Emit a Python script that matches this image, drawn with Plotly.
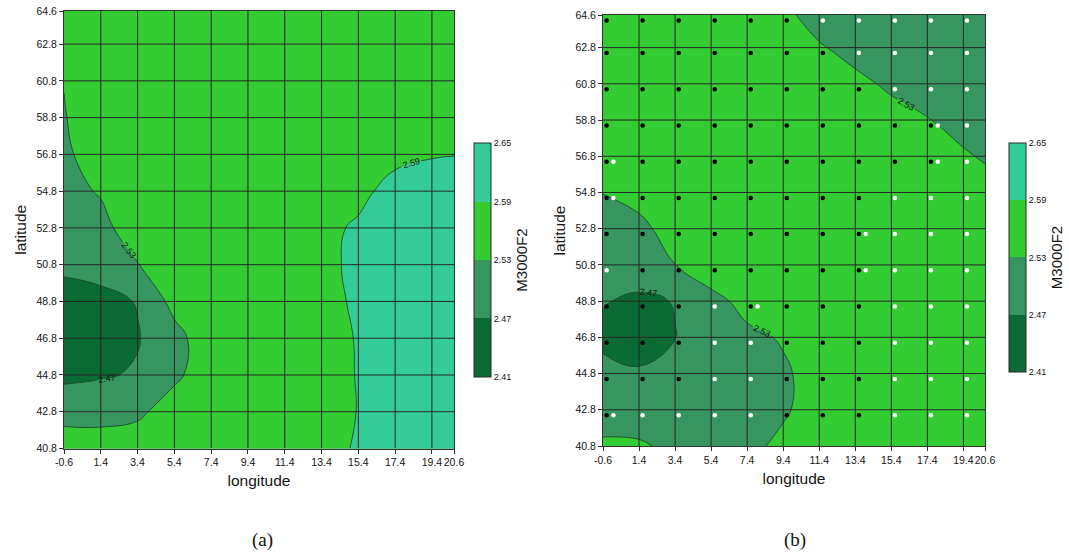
import plotly.graph_objects as go

# ---------------- data ----------------
lon = [-0.6, 1.4, 3.4, 5.4, 7.4, 9.4, 11.4, 13.4, 15.4, 17.4, 19.4, 20.6]
lat = [40.8, 42.8, 44.8, 46.8, 48.8, 50.8, 52.8, 54.8, 56.8, 58.8, 60.8, 62.8, 64.6]
lon_ticks = ["-0.6", "1.4", "3.4", "5.4", "7.4", "9.4", "11.4", "13.4", "15.4", "17.4", "19.4", "20.6"]
lat_ticks = ["40.8", "42.8", "44.8", "46.8", "48.8", "50.8", "52.8", "54.8", "56.8", "58.8", "60.8", "62.8", "64.6"]

levels = [2.41, 2.47, 2.53, 2.59, 2.65]

# M3000F2 estimated at grid nodes (rows = latitude bottom->top, cols = longitude)
z_a = [
    [2.575, 2.565, 2.560, 2.560, 2.560, 2.560, 2.565, 2.575, 2.5945, 2.610, 2.620, 2.620],
    [2.500, 2.505, 2.520, 2.555, 2.560, 2.560, 2.565, 2.575, 2.591, 2.610, 2.620, 2.620],
    [2.460, 2.465, 2.475, 2.520, 2.560, 2.560, 2.565, 2.575, 2.5917, 2.610, 2.620, 2.620],
    [2.430, 2.440, 2.4668, 2.510, 2.567, 2.565, 2.570, 2.580, 2.5916, 2.610, 2.620, 2.620],
    [2.450, 2.455, 2.4726, 2.549, 2.560, 2.565, 2.570, 2.580, 2.5948, 2.610, 2.620, 2.620],
    [2.480, 2.490, 2.528, 2.568, 2.565, 2.565, 2.570, 2.585, 2.5943, 2.610, 2.620, 2.620],
    [2.500, 2.515, 2.558, 2.565, 2.565, 2.565, 2.570, 2.585, 2.5926, 2.605, 2.615, 2.620],
    [2.515, 2.534, 2.555, 2.560, 2.565, 2.565, 2.570, 2.580, 2.585, 2.5968, 2.605, 2.610],
    [2.520, 2.557, 2.560, 2.560, 2.565, 2.565, 2.570, 2.575, 2.580, 2.585, 2.588, 2.589],
    [2.528, 2.553, 2.560, 2.560, 2.560, 2.560, 2.565, 2.570, 2.575, 2.580, 2.580, 2.585],
    [2.531, 2.550, 2.555, 2.560, 2.560, 2.560, 2.565, 2.565, 2.570, 2.575, 2.575, 2.580],
    [2.545, 2.555, 2.555, 2.560, 2.560, 2.560, 2.560, 2.565, 2.565, 2.570, 2.570, 2.575],
    [2.550, 2.555, 2.555, 2.560, 2.560, 2.560, 2.560, 2.560, 2.565, 2.565, 2.570, 2.570],
]

z_b = [
    [2.540, 2.535, 2.521, 2.510, 2.520, 2.539, 2.550, 2.555, 2.560, 2.560, 2.560, 2.560],
    [2.500, 2.508, 2.510, 2.510, 2.515, 2.525, 2.548, 2.555, 2.560, 2.560, 2.560, 2.560],
    [2.485, 2.474, 2.490, 2.505, 2.515, 2.524, 2.547, 2.555, 2.560, 2.560, 2.560, 2.560],
    [2.458, 2.454, 2.469, 2.505, 2.520, 2.534, 2.545, 2.550, 2.555, 2.560, 2.560, 2.560],
    [2.473, 2.461, 2.472, 2.515, 2.545, 2.550, 2.550, 2.555, 2.555, 2.560, 2.560, 2.560],
    [2.490, 2.497, 2.5295, 2.560, 2.560, 2.555, 2.555, 2.555, 2.555, 2.555, 2.560, 2.560],
    [2.510, 2.520, 2.547, 2.555, 2.560, 2.560, 2.560, 2.560, 2.560, 2.560, 2.560, 2.560],
    [2.531, 2.544, 2.555, 2.560, 2.560, 2.560, 2.560, 2.560, 2.560, 2.560, 2.550, 2.545],
    [2.545, 2.550, 2.555, 2.560, 2.560, 2.560, 2.560, 2.555, 2.550, 2.545, 2.5345, 2.526],
    [2.550, 2.555, 2.560, 2.560, 2.560, 2.555, 2.550, 2.550, 2.545, 2.5316, 2.516, 2.515],
    [2.550, 2.555, 2.560, 2.560, 2.555, 2.550, 2.545, 2.540, 2.523, 2.515, 2.510, 2.510],
    [2.550, 2.555, 2.555, 2.555, 2.550, 2.545, 2.534, 2.516, 2.510, 2.505, 2.500, 2.500],
    [2.550, 2.550, 2.550, 2.550, 2.545, 2.540, 2.512, 2.505, 2.500, 2.495, 2.490, 2.490],
]

# station dots in panel (b): 0 = black, 1 = white, 2 = black with a white one beside it
dot_lon = [-0.4, 1.6, 3.6, 5.6, 7.6, 9.6, 11.6, 13.6, 15.6, 17.6, 19.6]
dot_lat = [42.5, 44.5, 46.5, 48.5, 50.5, 52.5, 54.5, 56.5, 58.5, 60.5, 62.5, 64.3]
dot_kind = [
    [2, 1, 1, 1, 1, 0, 0, 0, 1, 1, 1],
    [0, 0, 0, 1, 1, 0, 0, 0, 1, 1, 1],
    [0, 0, 0, 1, 1, 0, 0, 0, 1, 1, 1],
    [0, 0, 0, 1, 2, 0, 0, 0, 1, 1, 1],
    [1, 0, 0, 0, 0, 0, 0, 2, 1, 1, 1],
    [0, 0, 0, 0, 0, 0, 0, 2, 1, 1, 1],
    [2, 0, 0, 0, 0, 0, 0, 0, 1, 1, 1],
    [2, 0, 0, 0, 0, 0, 0, 0, 0, 2, 1],
    [0, 0, 0, 0, 0, 0, 0, 0, 0, 2, 1],
    [0, 0, 0, 0, 0, 0, 0, 0, 1, 1, 1],
    [0, 0, 0, 0, 0, 0, 0, 1, 1, 1, 1],
    [0, 0, 0, 0, 0, 0, 1, 1, 1, 1, 1],
]

# ---------------- styling ----------------
W, H = 1069, 555
C_DARK = "#0b6b35"
C_MED = "#379660"
C_BRIGHT = "#33cc33"
C_TEAL = "#33cc99"
# contour fill colours (plotly samples band mid-points at 0.2/0.4/0.6/0.8)
cs_contour = [[0.0, C_DARK], [0.2, C_DARK], [0.4, C_MED], [0.6, C_BRIGHT], [0.8, C_TEAL], [1.0, C_TEAL]]
# stepped scale for the colour bar (2.41 .. 2.65, four bands)
cs_bar = [[0.0, C_DARK], [0.25, C_DARK], [0.25, C_MED], [0.5, C_MED],
          [0.5, C_BRIGHT], [0.75, C_BRIGHT], [0.75, C_TEAL], [1.0, C_TEAL]]
FONT = "Liberation Sans"
GRID = "#262626"
TXT = "#141414"

fig = go.Figure()


def add_panel(z, xa, ya, cb_left, cb_top, cb_bottom, cb_thick):
    # hidden underneath the contour; only provides the banded colour bar
    fig.add_trace(go.Heatmap(
        x=lon, y=lat, z=z, xaxis=xa, yaxis=ya,
        colorscale=cs_bar, zmin=levels[0], zmax=levels[-1], hoverinfo="skip",
        colorbar=dict(x=cb_left / W, xanchor="left",
                      y=1 - (cb_top + cb_bottom) / 2 / H, yanchor="middle",
                      len=cb_bottom - cb_top, lenmode="pixels", thickness=cb_thick,
                      outlinewidth=1, outlinecolor="#2a2a2a",
                      tickvals=levels, ticktext=[f"{v:.2f}" for v in levels],
                      ticks="",
                      tickfont=dict(family=FONT, size=9, color=TXT),
                      xpad=0, ypad=0,
                      title=dict(text="M3000F2", side="right",
                                 font=dict(family=FONT, size=15, color=TXT))),
    ))
    fig.add_trace(go.Contour(
        x=lon, y=lat, z=z,
        xaxis=xa, yaxis=ya,
        colorscale=cs_contour, showscale=False,
        contours=dict(start=levels[0], end=levels[-1], size=round(levels[1] - levels[0], 2),
                      coloring="fill", showlabels=True,
                      labelfont=dict(family=FONT, size=9, color="#111111"),
                      labelformat=".2f"),
        line=dict(color="#1e4a2c", width=0.9, smoothing=1.3),
        hoverinfo="skip",
    ))


add_panel(z_a, "x", "y", 474, 143, 377, 17)
add_panel(z_b, "x2", "y2", 1009, 143, 372, 17)

# dots on panel (b)
bx, by, wx, wy = [], [], [], []
for r, row in enumerate(dot_kind):
    for c, k in enumerate(row):
        if k in (0, 2):
            bx.append(dot_lon[c]); by.append(dot_lat[r])
        if k == 1:
            wx.append(dot_lon[c]); wy.append(dot_lat[r])
        if k == 2:
            wx.append(dot_lon[c] + 0.38); wy.append(dot_lat[r])
fig.add_trace(go.Scatter(x=bx, y=by, mode="markers", xaxis="x2", yaxis="y2",
                         marker=dict(size=4.5, color="black"), showlegend=False, hoverinfo="skip"))
fig.add_trace(go.Scatter(x=wx, y=wy, mode="markers", xaxis="x2", yaxis="y2",
                         marker=dict(size=4.5, color="white"), showlegend=False, hoverinfo="skip"))

axis_common = dict(showgrid=False, zeroline=False, showline=True, mirror=True,
                   linecolor="#333333", linewidth=1, ticks="outside", ticklen=4,
                   tickcolor="#333333", tickangle=0,
                   tickfont=dict(family=FONT, size=10.5, color=TXT))

xa_common = dict(axis_common, range=[lon[0], lon[-1]], tickvals=lon, ticktext=lon_ticks,
                 title=dict(text="longitude", font=dict(family=FONT, size=15.5, color=TXT), standoff=8))
ya_common = dict(axis_common, range=[lat[0], lat[-1]], tickvals=lat, ticktext=lat_ticks,
                 title=dict(text="latitude", font=dict(family=FONT, size=15.5, color=TXT), standoff=6))

fig.update_layout(
    width=W, height=H,
    margin=dict(l=0, r=0, t=0, b=0, autoexpand=False),
    paper_bgcolor="white", plot_bgcolor="white",
    showlegend=False,
    xaxis=dict(xa_common, domain=[64 / W, 454 / W], anchor="y"),
    yaxis=dict(ya_common, domain=[1 - 448.5 / H, 1 - 11 / H], anchor="x"),
    xaxis2=dict(xa_common, domain=[603 / W, 985 / W], anchor="y2"),
    yaxis2=dict(ya_common, domain=[1 - 446 / H, 1 - 15 / H], anchor="x2"),
)

# grid lines drawn over the filled contours, at the tick positions
shapes = []
for xr, yr in (("x", "y"), ("x2", "y2")):
    for v in lon[1:-1]:
        shapes.append(dict(type="line", xref=xr, yref=yr, x0=v, x1=v, y0=lat[0], y1=lat[-1],
                           line=dict(color=GRID, width=1), layer="above"))
    for v in lat[1:-1]:
        shapes.append(dict(type="line", xref=xr, yref=yr, x0=lon[0], x1=lon[-1], y0=v, y1=v,
                           line=dict(color=GRID, width=1), layer="above"))
fig.update_layout(shapes=shapes)

for label, cx in (("(a)", 262), ("(b)", 795)):
    fig.add_annotation(text=label, x=cx / W, y=1 - 540 / H, xref="paper", yref="paper",
                       xanchor="center", yanchor="middle", showarrow=False,
                       font=dict(family="Liberation Serif", size=19, color="#111"))

fig.write_html("out.html", config={"displayModeBar": False},
               post_script="document.body.style.margin='0';")
